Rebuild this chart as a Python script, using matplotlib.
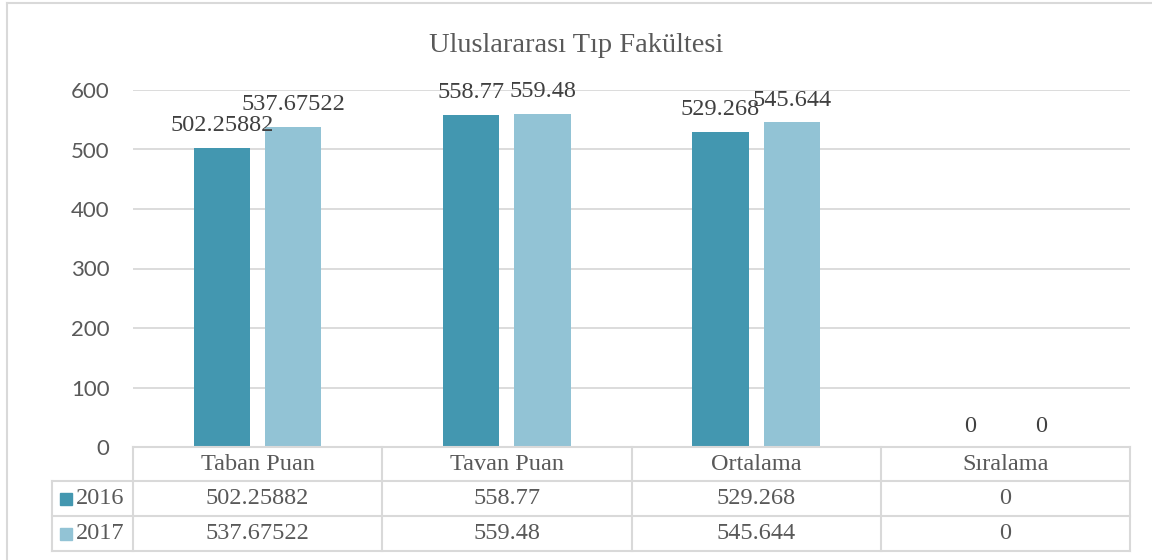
import matplotlib
matplotlib.use("Agg")
import matplotlib.pyplot as plt
from matplotlib.lines import Line2D
from matplotlib.patches import Rectangle
import numpy as np

categories = ["Taban Puan", "Tavan Puan", "Ortalama", "Sıralama"]
series_names = ["2016", "2017"]
values_2016 = [502.25882, 558.77, 529.268, 0]
values_2017 = [537.67522, 559.48, 545.644, 0]
labels_2016 = ["502.25882", "558.77", "529.268", "0"]
labels_2017 = ["537.67522", "559.48", "545.644", "0"]
yticks = [0, 100, 200, 300, 400, 500, 600]
title = "Uluslararası Tıp Fakültesi"

c2016 = "#4397B0"
c2017 = "#92C3D5"
grid_c = "#D9D9D9"
text_c = "#595959"
serif = ["Liberation Serif", "DejaVu Serif"]
sans = ["Lato", "DejaVu Sans"]

W, H = 1152, 560
fig = plt.figure(figsize=(W / 100, H / 100), dpi=100)

def fx(px):
    return px / W

def fy(py):
    return 1 - py / H

# plot area in pixel coords
L, R, T, B = 133, 1130, 90, 447
ax = fig.add_axes([fx(L), fy(B), fx(R) - fx(L), fy(T) - fy(B)])
ax.set_xlim(0, len(categories))
ax.set_ylim(0, 600)
ax.set_yticks(yticks)
ax.set_yticklabels([str(t) for t in yticks], fontfamily=sans, fontsize=16, color=text_c)
ax.tick_params(axis="y", length=0, pad=17)
ax.set_xticks([])
for s in ax.spines.values():
    s.set_visible(False)
ax.grid(axis="y", color=grid_c, linewidth=1.3)
ax.set_axisbelow(True)

x = np.arange(len(categories)) + 0.5
bw = 0.225
off = 0.143
ax.bar(x - off, values_2016, bw, color=c2016)
ax.bar(x + off, values_2017, bw, color=c2017)

for xs, vals, labs in ((x - off, values_2016, labels_2016), (x + off, values_2017, labels_2017)):
    for xi, v, lab in zip(xs, vals, labs):
        dy = 7.5 if v == 0 else 8.5
        ax.annotate(lab, (xi, v), xytext=(0, dy), textcoords="offset points",
                    ha="center", va="bottom", fontfamily=serif, fontsize=17.5, color="#404040")

fig.text(0.5, fy(46), title, ha="center", va="center", fontfamily=serif,
         fontsize=20.5, color=text_c)

# data table
def hline(x0, x1, y):
    fig.add_artist(Line2D([fx(x0), fx(x1)], [fy(y), fy(y)], color=grid_c, lw=1.5))

def vline(xp, y0, y1):
    fig.add_artist(Line2D([fx(xp), fx(xp)], [fy(y0), fy(y1)], color=grid_c, lw=1.5))

rows_y = [447, 481, 516, 551]
legend_x = 52
col_w = (R - L) / len(categories)
cols_x = [L + i * col_w for i in range(len(categories) + 1)]

hline(L, R, rows_y[0])
for ry in rows_y[1:]:
    hline(legend_x, R, ry)
vline(legend_x, rows_y[1], rows_y[3])
for cx in cols_x:
    vline(cx, rows_y[0], rows_y[3])

for i, cat in enumerate(categories):
    cx = (cols_x[i] + cols_x[i + 1]) / 2
    fig.text(fx(cx), fy((rows_y[0] + rows_y[1]) / 2), cat, ha="center", va="center",
             fontfamily=serif, fontsize=17.5, color=text_c)
    fig.text(fx(cx), fy((rows_y[1] + rows_y[2]) / 2), labels_2016[i], ha="center", va="center",
             fontfamily=serif, fontsize=17.5, color=text_c)
    fig.text(fx(cx), fy((rows_y[2] + rows_y[3]) / 2), labels_2017[i], ha="center", va="center",
             fontfamily=serif, fontsize=17.5, color=text_c)

for j, (name, col) in enumerate(zip(series_names, [c2016, c2017])):
    cy = (rows_y[j + 1] + rows_y[j + 2]) / 2
    fig.add_artist(Rectangle((fx(60), fy(cy + 6)), fx(12), fy(0) - fy(12),
                             transform=fig.transFigure, color=col))
    fig.text(fx(76), fy(cy), name, ha="left", va="center", fontfamily=serif,
             fontsize=17.5, color=text_c)

# outer chart border (top and left visible)
fig.add_artist(Line2D([fx(7), fx(1152)], [fy(3), fy(3)], color=grid_c, lw=1.5))
fig.add_artist(Line2D([fx(7), fx(7)], [fy(3), fy(560)], color=grid_c, lw=1.5))

fig.savefig("out.png", dpi=100)
